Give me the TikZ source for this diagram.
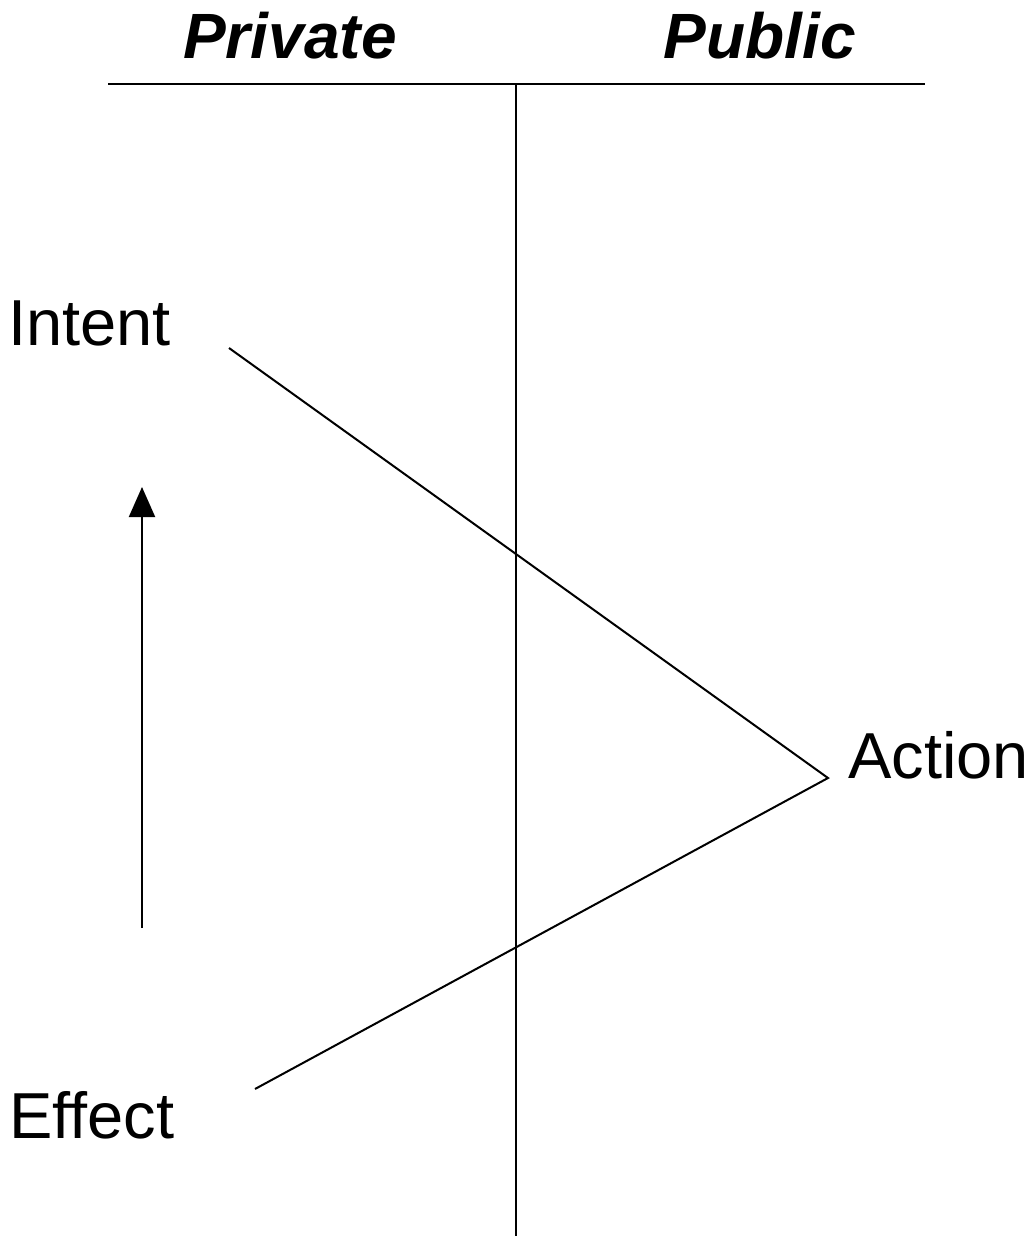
\documentclass[tikz,border=0pt]{standalone}
\usepackage{fontspec}
\setmainfont{Liberation Sans}
\usetikzlibrary{arrows.meta,positioning}
\tikzset{
thick line/.style={line width=2pt},
side label/.style={font=\bfseries\itshape\fontsize{64}{76}\selectfont, inner sep=0pt, anchor=base},
stage/.style={font=\fontsize{65}{78}\selectfont, inner sep=0pt, anchor=base west},
}

\begin{document}
\begin{tikzpicture}[x=1pt,y=-1pt]

    \useasboundingbox (0,0) rectangle (1031,1237);

    \node[side label] (private) at (290,58) {Private};
    \node[side label] (public) at (760,58) {Public};

    \node[stage] (intent) at (8,345) {Intent};
    \node[stage] (action) at (848,778) {Action};
    \node[stage] (effect) at (9,1138) {Effect};

    \coordinate (hl) at (108,84);
    \coordinate (hr) at (925,84);
    \coordinate (vt) at (516,84);
    \coordinate (vb) at (516,1236);
    \coordinate (i) at (229,348);
    \coordinate (a) at (828,778);
    \coordinate (e) at (255,1089);
    \coordinate (up0) at (142,928);
    \coordinate (up1) at (142,487);

    \draw[thick line] (hl) -- (hr);
    \draw[thick line] (vt) -- (vb);
    \draw[thick line] (i) -- (a) -- (e);
    \draw[thick line,-{Triangle[width=26pt,length=30pt]}] (up0) -- (up1);

\end{tikzpicture}
\end{document}
